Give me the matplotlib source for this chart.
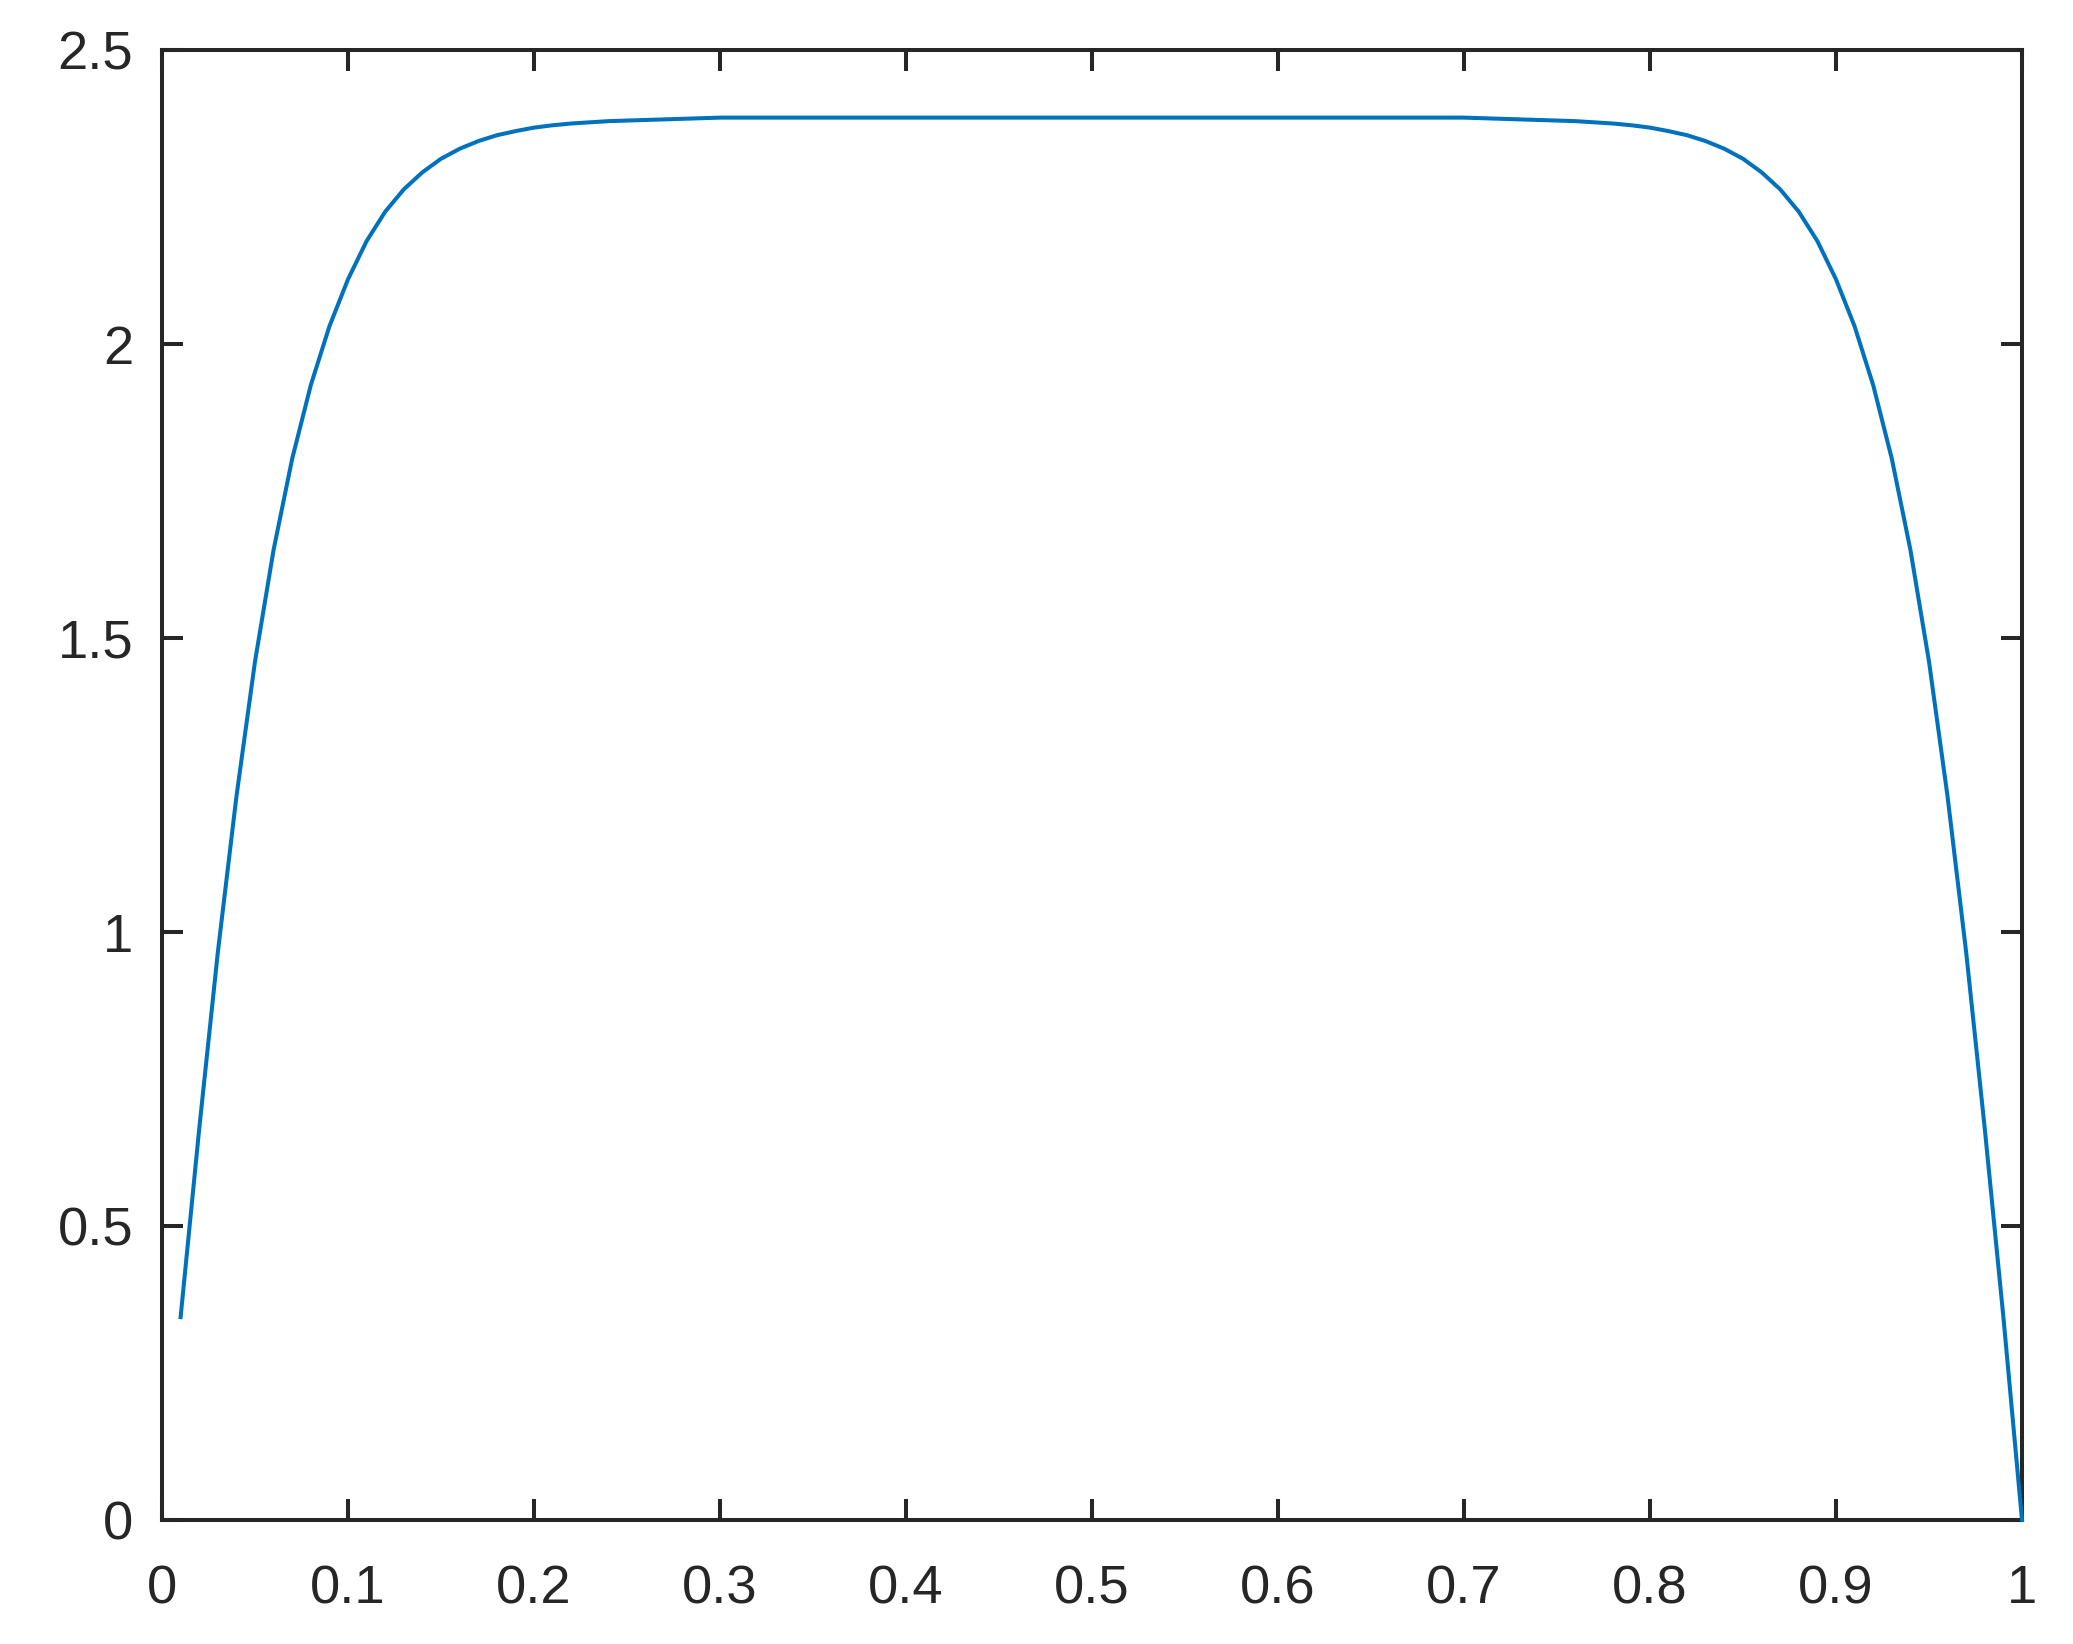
import matplotlib
matplotlib.use("Agg")
import matplotlib.pyplot as plt

# sample positions along x
x_vals = [0.01, 0.02, 0.03, 0.04, 0.05, 0.06, 0.07, 0.08, 0.09, 0.10,
          0.11, 0.12, 0.13, 0.14, 0.15, 0.16, 0.17, 0.18, 0.19, 0.20,
          0.21, 0.22, 0.23, 0.24, 0.25, 0.26, 0.27, 0.28, 0.29, 0.30,
          0.31, 0.32, 0.33, 0.34, 0.35, 0.36, 0.37, 0.38, 0.39, 0.40,
          0.41, 0.42, 0.43, 0.44, 0.45, 0.46, 0.47, 0.48, 0.49, 0.50,
          0.51, 0.52, 0.53, 0.54, 0.55, 0.56, 0.57, 0.58, 0.59, 0.60,
          0.61, 0.62, 0.63, 0.64, 0.65, 0.66, 0.67, 0.68, 0.69, 0.70,
          0.71, 0.72, 0.73, 0.74, 0.75, 0.76, 0.77, 0.78, 0.79, 0.80,
          0.81, 0.82, 0.83, 0.84, 0.85, 0.86, 0.87, 0.88, 0.89, 0.90,
          0.91, 0.92, 0.93, 0.94, 0.95, 0.96, 0.97, 0.98, 0.99, 1.00]

# values
y_vals = [0.345, 0.665, 0.965, 1.230, 1.460, 1.650, 1.805, 1.930, 2.030, 2.110,
          2.175, 2.225, 2.263, 2.292, 2.315, 2.332, 2.345, 2.355, 2.362, 2.368,
          2.372, 2.375, 2.377, 2.379, 2.380, 2.381, 2.382, 2.383, 2.384, 2.385,
          2.385, 2.385, 2.385, 2.385, 2.385, 2.385, 2.385, 2.385, 2.385, 2.385,
          2.385, 2.385, 2.385, 2.385, 2.385, 2.385, 2.385, 2.385, 2.385, 2.385,
          2.385, 2.385, 2.385, 2.385, 2.385, 2.385, 2.385, 2.385, 2.385, 2.385,
          2.385, 2.385, 2.385, 2.385, 2.385, 2.385, 2.385, 2.385, 2.385, 2.385,
          2.384, 2.383, 2.382, 2.381, 2.380, 2.379, 2.377, 2.375, 2.372, 2.368,
          2.362, 2.355, 2.345, 2.332, 2.315, 2.292, 2.263, 2.225, 2.175, 2.110,
          2.030, 1.930, 1.805, 1.650, 1.460, 1.230, 0.965, 0.665, 0.345, 0.000]

x_ticks = [0, 0.1, 0.2, 0.3, 0.4, 0.5, 0.6, 0.7, 0.8, 0.9, 1.0]
x_tick_labels = ["0", "0.1", "0.2", "0.3", "0.4", "0.5", "0.6", "0.7", "0.8", "0.9", "1"]
y_ticks = [0, 0.5, 1.0, 1.5, 2.0, 2.5]
y_tick_labels = ["0", "0.5", "1", "1.5", "2", "2.5"]

axis_color = "#262626"
line_color = "#0072BD"

plt.rcParams['font.family'] = ['Liberation Sans', 'DejaVu Sans']

fig = plt.figure(figsize=(2073 / 200, 1644 / 200), dpi=200)
ax = fig.add_axes([162 / 2073, 1 - 1520 / 1644, 1860 / 2073, 1470 / 1644])

ax.plot(x_vals, y_vals, color=line_color, linewidth=1.45, clip_on=False, zorder=3)

ax.set_xlim(0, 1)
ax.set_ylim(0, 2.5)
ax.set_xticks(x_ticks)
ax.set_xticklabels(x_tick_labels)
ax.set_yticks(y_ticks)
ax.set_yticklabels(y_tick_labels)

for spine in ax.spines.values():
    spine.set_color(axis_color)
    spine.set_linewidth(1.45)

ax.tick_params(axis='both', direction='in', length=7.5, width=1.45,
               color=axis_color, labelcolor=axis_color, labelsize=19.6,
               top=True, right=True)
ax.tick_params(axis='x', pad=16)
ax.tick_params(axis='y', pad=10.4)

fig.savefig("out.png", dpi=200, facecolor="white")
